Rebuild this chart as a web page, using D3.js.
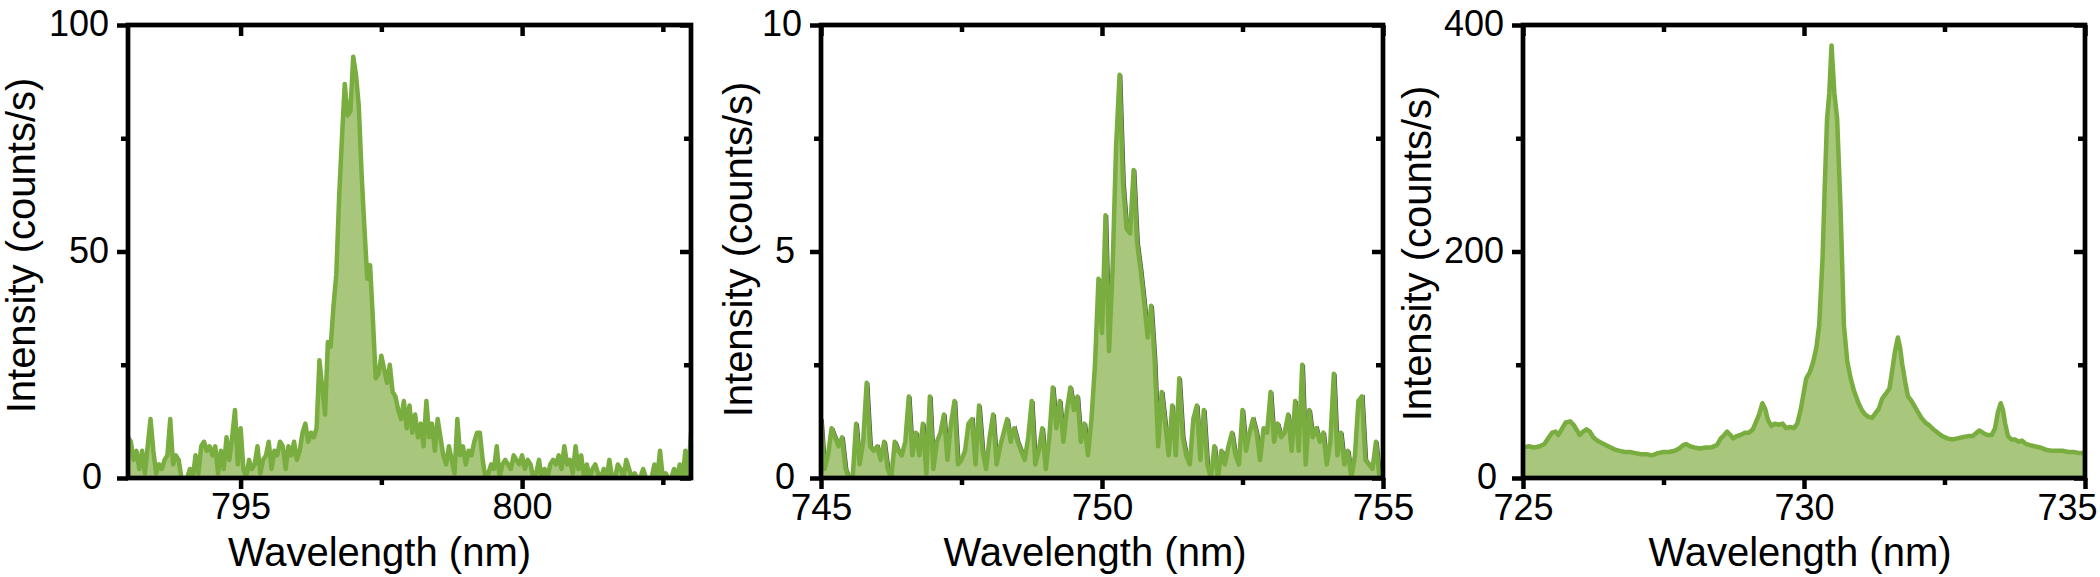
<!DOCTYPE html>
<html><head><meta charset="utf-8">
<script src="https://cdn.jsdelivr.net/npm/d3@7"></script>
<style>body{margin:0;background:#fff}svg{display:block;background:#fff}</style>
</head><body><svg id="c" width="2100" height="577"></svg>
<script>
// ---------- data ----------
const wl1Start = 793, wl1Step = 0.05;
const int1 = [9,8,4,6,2,6,1,7,13,6, 1,3,2,4,5,13,3,5,4,0, 0,0,2,0,5,1,7,8,6,7, 5,7,1,6,2,9,4,9,15,3,
 11,2,0,4,2,3,7,1,4,5, 8,2,6,5,8,7,2,7,5,8, 4,6,10,12,8,10,9,11,26,20, 14,30,29,38,45,62,75,87,80,81,
 93,89,82,67,55,44,47,35,22,23, 27,24,21,25,19,18,15,13,17,11, 16,10,14,9,12,7,17,9,12,6, 13,9,5,3,7,4,1,13,5,7,
 3,6,5,8,10,10,4,0,1,3, 2,7,0,3,4,3,2,5,4,3, 5,2,4,3,0,1,4,0,2,0, 3,4,3,5,2,7,3,4,1,7,
 2,5,0,3,0,2,3,1,0,2, 0,4,0,0,3,2,0,4,2,0, 1,0,0,2,0,0,0,3,0,6, 0,1,0,0,2,0,3,0,6,0, 10];

const wl2Start = 745, wl2Step = 0.0625;
const int2 = [1.3,0.2,0.5,1.1,0.9,0.7,0.9,0.2,0,0, 1.2,0.3,0.8,2.1,0.7,0.6,0.7,0.4,0.8,0.2,
 0,0.8,0.6,0.5,0.8,1.8,0.5,1.0,0.5,1.2, 0.1,1.8,0.2,0.8,1.0,1.4,0.4,1.2,1.7,0.3,
 0.4,0.6,1.2,1.3,0.3,1.6,0.6,0.2,0.9,1.4, 0.3,0.7,1.0,1.3,0.8,1.1,0.8,0.6,0.4,0.9,
 1.7,0.3,0.6,1.1,0.2,0.9,2.0,1.1,1.7,0.8, 1.5,2.0,1.5,1.8,0.8,1.2,0.5,1.3,2.5,4.4,
 3.2,5.8,2.8,4.6,7.3,8.9,6.5,5.5,5.4,6.8, 5.2,4.6,3.9,3.1,3.8,2.6,0.7,1.9,1.2,0.5,
 1.6,0.5,2.2,0.9,0.5,0.3,1.3,1.6,0.4,1.5, 0.3,0.0,0.7,0.0,0.6,0.3,0.7,1.0,0.5,0.3,
 1.5,0.6,1.0,1.3,1.0,0.4,1.1,1.0,1.9,0.8, 1.2,0.9,1.0,1.4,0.6,1.7,0.6,2.5,0.3,1.5,
 0.9,1.1,0.8,1.0,0.3,0.8,2.3,0.5,1.0,0.3, 0.6,0.0,0.5,1.7,1.8,0.4,0.3,0.2,0.8,0.0, 0.0];

const wl3 = [725.00,725.10,725.20,725.30,725.38,725.46,725.52,725.58,725.63,725.70,725.76,725.84,725.90,725.96,
 726.01,726.07,726.13,726.19,726.25,726.32,726.40,726.48,726.56,726.64,726.72,726.80,726.90,727.00,727.10,727.20,
 727.30,727.40,727.50,727.60,727.70,727.78,727.85,727.90,727.97,728.05,728.15,728.25,728.35,728.45,728.52,728.58,
 728.63,728.69,728.74,728.80,728.87,728.95,729.02,729.09,729.15,729.20,729.26,729.31,729.36,729.42,729.48,729.55,
 729.62,729.68,729.75,729.82,729.88,729.94,729.99,730.04,730.10,730.16,730.22,730.27,730.33,730.37,730.41,730.45,
 730.49,730.54,730.59,730.65,730.71,730.77,730.83,730.89,730.97,731.03,731.09,731.15,731.21,731.27,731.33,731.39,
 731.45,731.52,731.57,731.62,731.67,731.71,731.75,731.80,731.85,731.90,731.96,732.03,732.09,732.16,732.22,732.30,
 732.38,732.46,732.55,732.64,732.73,732.82,732.92,733.00,733.07,733.12,733.18,733.26,733.34,733.40,733.45,733.50,
 733.54,733.58,733.63,733.69,733.76,733.82,733.88,733.95,734.02,734.10,734.20,734.30,734.40,734.50,734.60,734.70,
 734.80,734.90,735.00];
const int3 = [27,28,27,28,30,36,40,41,38,44,49,50,47,42,
 38,41,43,41,36,33,31,29,27,25,24,23,23,22,21,21,
 20,22,23,23,24,26,29,30,28,27,26,27,27,29,35,38,
 41,38,35,37,38,40,40,43,50,56,66,61,51,46,48,47,
 48,44,45,44,48,60,74,88,93,102,115,135,194,259,317,340,
 382,340,317,239,135,103,88,77,66,60,56,54,53,57,61,70,
 74,79,95,112,124,115,100,85,72,69,64,58,53,49,47,43,
 40,37,35,34,35,36,37,37,40,42,40,38,38,44,58,66,
 60,48,37,34,34,32,33,30,29,28,27,25,24,24,24,23,
 23,22,22];

const xDomains = [[793,803],[745,755],[725,735]];
const yDomains = [[0,100],[0,10],[0,400]];
const xMajorTicks = [[795,800],[745,750,755],[725,730,735]];
const xMinorTicks = [[797.5,802.5],[747.5,752.5],[727.5,732.5]];
const yMajorTicks = [[0,50,100],[0,5,10],[0,200,400]];
const yMinorTicks = [[25,75],[2.5,7.5],[100,300]];
const xTitle = "Wavelength (nm)";
const yTitle = "Intensity (counts/s)";

// ---------- layout / style ----------
const FONT = "'Liberation Sans', Arial, Helvetica, sans-serif";
const LINE = "#79ad3f", FILL = "#a8c67c", SHADOW = "#4a4553";
const plotTop = 25, plotH = 453, svgW = 2100;
const layout = [
  {left:128, w:563, xFont:36, xPad:4, xlOff:-30, ylX:-93, ylY:-6, shadow:false},
  {left:821, w:562, xFont:37, xPad:5, xlOff:-7,  ylX:-69, ylY:-2, shadow:true},
  {left:1523,w:562, xFont:36, xPad:5, xlOff:-4,  ylX:-92, ylY:2,  shadow:false}
];
const datasets = [
  int1.map((v,i)=>({x: wl1Start + i*wl1Step, y: v})),
  int2.map((v,i)=>({x: wl2Start + i*wl2Step, y: v})),
  wl3.map((w,i)=>({x: w, y: int3[i]}))
];

const svg = d3.select("#c");
const defs = svg.append("defs");
const h = plotH;

layout.forEach((L, k) => {
  const w = L.w;
  const g = svg.append("g").attr("transform", `translate(${L.left},${plotTop})`);
  const x = d3.scaleLinear().domain(xDomains[k]).range([0, w]);
  const y = d3.scaleLinear().domain(yDomains[k]).range([h, 0]);

  defs.append("clipPath").attr("id", "clip"+k)
    .append("rect").attr("x",0).attr("y",0).attr("width",w).attr("height",h);

  const data = datasets[k];
  const area = d3.area().x(d=>x(d.x)).y0(y(0)).y1(d=>y(d.y));
  const line = d3.line().x(d=>x(d.x)).y(d=>y(d.y));
  const pg = g.append("g").attr("clip-path", `url(#clip${k})`);

  if (L.shadow) {
    pg.append("path").datum(data).attr("d", line)
      .attr("transform","translate(2,0)")
      .attr("fill","none").attr("stroke",SHADOW).attr("stroke-width",1.6);
  }
  pg.append("path").datum(data).attr("d", area).attr("fill", FILL);
  pg.append("path").datum(data).attr("d", line)
    .attr("fill","none").attr("stroke",LINE).attr("stroke-width",4.5)
    .attr("stroke-linejoin","round");

  // frame
  g.append("rect").attr("x",0).attr("y",0).attr("width",w).attr("height",h)
    .attr("fill","none").attr("stroke","#000").attr("stroke-width",4.7);

  const styleAxis = (sel, fs) => {
    sel.select(".domain").remove();
    sel.attr("font-family", FONT).attr("font-size", fs);
    sel.selectAll(".tick line").attr("stroke","#000").attr("stroke-width",4.5);
    sel.selectAll(".tick text").attr("fill","#000");
  };

  // bottom
  g.append("g").attr("transform",`translate(0,${h})`)
    .call(d3.axisBottom(x).tickValues(xMajorTicks[k]).tickSize(11).tickPadding(L.xPad).tickFormat(d3.format("d")))
    .call(s=>styleAxis(s, L.xFont))
    .call(s=>s.selectAll(".tick text").attr("dx", function(d){
      // keep a label that would run past the picture's right edge inside it
      const right = L.left + x(d) + this.getComputedTextLength()/2;
      return right > svgW - 3 ? (svgW - 3 - right) : 0;
    }));
  g.append("g").attr("transform",`translate(0,${h})`)
    .call(d3.axisBottom(x).tickValues(xMinorTicks[k]).tickSize(7).tickFormat(""))
    .call(s=>styleAxis(s, L.xFont));
  // top (inward)
  g.append("g")
    .call(d3.axisTop(x).tickValues(xMajorTicks[k]).tickSize(-11).tickFormat(""))
    .call(s=>styleAxis(s, 36));
  g.append("g")
    .call(d3.axisTop(x).tickValues(xMinorTicks[k]).tickSize(-7).tickFormat(""))
    .call(s=>styleAxis(s, 36));
  // left
  g.append("g")
    .call(d3.axisLeft(y).tickValues(yMajorTicks[k]).tickSize(11).tickPadding(8).tickFormat(d3.format("d")))
    .call(s=>styleAxis(s, 36))
    .call(s=>s.selectAll(".tick text").attr("dx", d => String(d).length === 1 ? -7 : 0).attr("dy","0.30em"));
  g.append("g")
    .call(d3.axisLeft(y).tickValues(yMinorTicks[k]).tickSize(7).tickFormat(""))
    .call(s=>styleAxis(s, 36));
  // right (inward)
  g.append("g").attr("transform",`translate(${w},0)`)
    .call(d3.axisRight(y).tickValues(yMajorTicks[k]).tickSize(-11).tickFormat(""))
    .call(s=>styleAxis(s, 36));
  g.append("g").attr("transform",`translate(${w},0)`)
    .call(d3.axisRight(y).tickValues(yMinorTicks[k]).tickSize(-7).tickFormat(""))
    .call(s=>styleAxis(s, 36));

  // titles
  g.append("text").text(xTitle)
    .attr("x", w/2 + L.xlOff).attr("y", 566 - plotTop)
    .attr("text-anchor","middle").attr("font-family",FONT).attr("font-size",40).attr("fill","#000");
  g.append("text").text(yTitle)
    .attr("transform", `translate(${L.ylX},${h/2 + L.ylY}) rotate(-90)`)
    .attr("text-anchor","middle").attr("font-family",FONT).attr("font-size",40).attr("fill","#000");
});
</script>
</body></html>
